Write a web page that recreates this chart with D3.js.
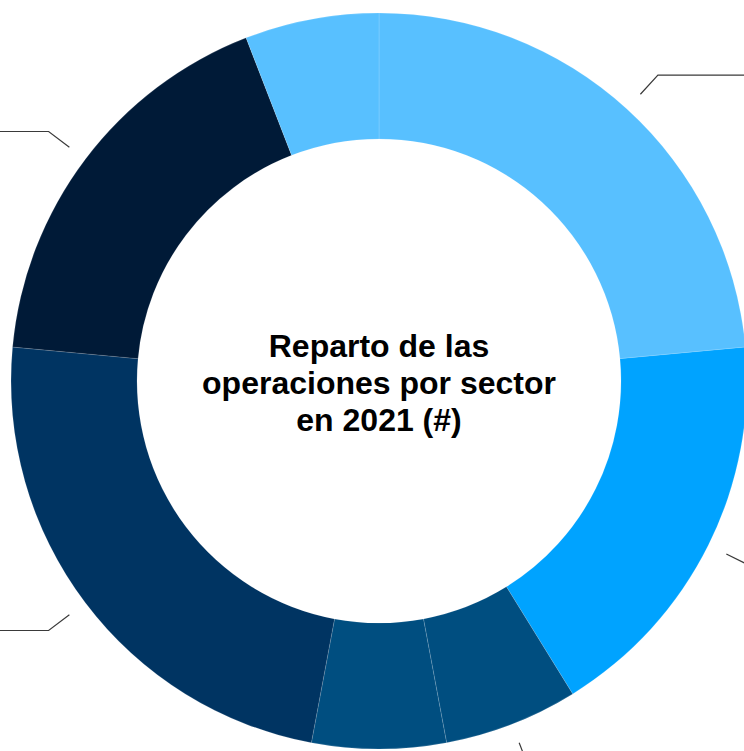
<!DOCTYPE html>
<html>
<head>
<meta charset="utf-8">
<script src="https://cdn.jsdelivr.net/npm/d3@7"></script>
<style>
  html, body { margin: 0; padding: 0; background: #fff; overflow: hidden; }
  svg { display: block; }
</style>
</head>
<body>
<div id="chart"></div>
<script>
// operations per sector in 2021, clockwise from 12 o'clock
const sectorIds = [1, 2, 3, 4, 5, 6, 7];
const operations = [4, 3, 1, 1, 4, 3, 1];
const sectorColors = ["#58c0ff", "#00a3ff", "#004e80", "#004e80", "#003462", "#001a37", "#58c0ff"];
const titleLines = ["Reparto de las", "operaciones por sector", "en 2021 (#)"];

(function(){

	const svgWidth = 744;
	const svgHeight = 751;
	const cx = 379, cy = 381;
	const outerR = 368, innerR = 242;

	const svg = d3.select("#chart").append("svg")
		.attr("width", svgWidth).attr("height", svgHeight);

	const g = svg.append("g").attr("transform", `translate(${cx}, ${cy})`);

	const table = sectorIds.map((id, i) => ({ id: id, value: operations[i], color: sectorColors[i] }));

	const pie = d3.pie().value(d => d.value).sort(null);
	const arc = d3.arc().innerRadius(innerR).outerRadius(outerR);
	const arcs = pie(table);

	g.selectAll("path.slice").data(arcs).enter().append("path")
		.attr("class", "slice")
		.attr("d", arc)
		.attr("fill", d => d.data.color)
		.attr("stroke", "#ffffff")
		.attr("stroke-opacity", 0.35)
		.attr("stroke-width", 0.4);

	// leader lines (labels sit outside the visible area)
	const startArc = d3.arc().innerRadius(388).outerRadius(388);
	const elbowArc = d3.arc().innerRadius(414).outerRadius(414);
	g.selectAll("polyline.leader").data(arcs).enter().append("polyline")
		.attr("class", "leader")
		.attr("fill", "none")
		.attr("stroke", "#3a3a3a")
		.attr("stroke-width", 1.2)
		.attr("points", function(d){
			let mid = (d.startAngle + d.endAngle) / 2;
			let a = startArc.centroid(d);
			let b = elbowArc.centroid(d);
			let dir = Math.sin(mid) >= 0 ? 1 : -1;
			let c = [b[0] + dir * 120, b[1]];
			return [a, b, c].map(p => p.join(",")).join(" ");
		});

	// centre title
	const title = g.append("text")
		.attr("text-anchor", "middle")
		.attr("font-family", "'Liberation Sans', Arial, Helvetica, sans-serif")
		.attr("font-weight", "bold")
		.attr("font-size", 32)
		.attr("fill", "#000");
	titleLines.forEach(function(line, i){
		title.append("tspan").attr("x", 0).attr("y", -24 + i * 37).text(line);
	});

})();
</script>
</body>
</html>
